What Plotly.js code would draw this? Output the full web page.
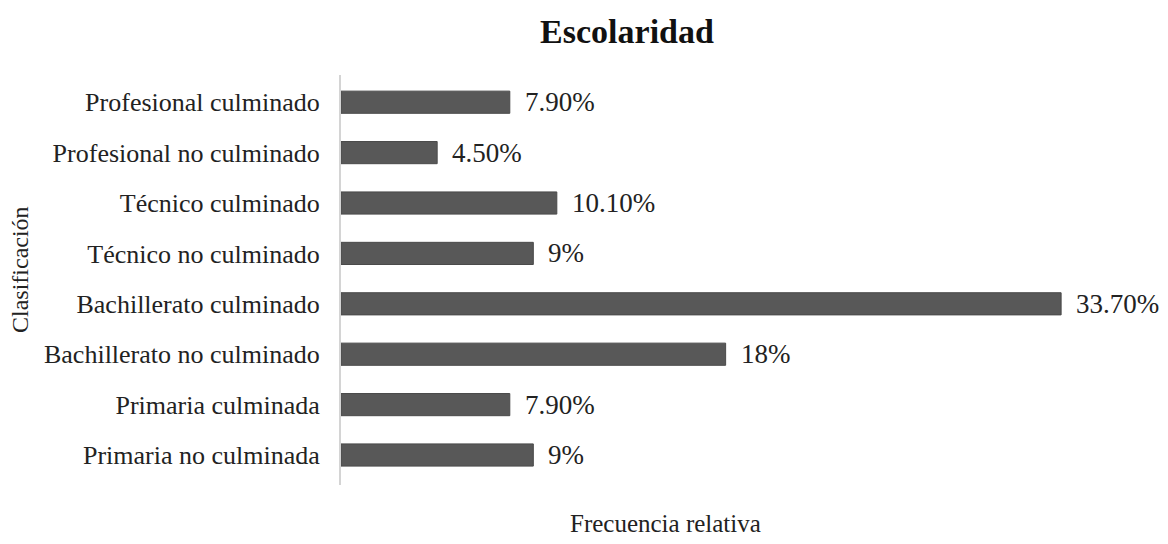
<!DOCTYPE html>
<html>
<head>
<meta charset="utf-8">
<script src="https://cdn.plot.ly/plotly-3.0.1.min.js"></script>
<style>html,body{margin:0;padding:0;background:#fff;}#chart{width:1168px;height:544px;}</style>
</head>
<body>
<div id="chart"></div>
<script>
const categories = ["Primaria no culminada","Primaria culminada","Bachillerato no culminado","Bachillerato culminado","Técnico no culminado","Técnico culminado","Profesional no culminado","Profesional culminado"];
const values = [9, 7.9, 18, 33.7, 9, 10.1, 4.5, 7.9];
const labels = ["9%","7.90%","18%","33.70%","9%","10.10%","4.50%","7.90%"];

const font = "Liberation Serif, Times New Roman, serif";

const trace = {
  type: "bar",
  orientation: "h",
  y: categories,
  x: values,
  marker: {color: "#585858", line: {color: "#4a4a4a", width: 1}},
  hoverinfo: "none"
};

const annotations = categories.map((c, i) => ({
  x: values[i], y: c, xref: "x", yref: "y",
  text: labels[i], showarrow: false, xanchor: "left", xshift: 13,
  font: {family: font, size: 27, color: "#222"}
}));
annotations.push({
  xref: "paper", yref: "paper", x: (665-341)/812, y: 0, yshift: -38,
  xanchor: "center", yanchor: "middle", showarrow: false,
  text: "Frecuencia relativa", font: {family: font, size: 25, color: "#222"}
});
annotations.push({
  xref: "paper", yref: "paper", x: 0, xshift: -321, y: 0.5, yshift: 10,
  xanchor: "center", yanchor: "middle", showarrow: false, textangle: -90,
  text: "Clasificación", font: {family: font, size: 24, color: "#222"}
});

const layout = {
  width: 1168, height: 544,
  margin: {l: 341, r: 15, t: 75, b: 59},
  paper_bgcolor: "#fff", plot_bgcolor: "#fff",
  title: {text: "<b>Escolaridad</b>", x: 627/1168, xref: "container", xanchor: "center", y: 1 - 31/544, yanchor: "middle", yref: "container",
          font: {family: font, size: 34, color: "#111"}},
  bargap: 0.56,
  showlegend: false,
  xaxis: {range: [0, 38], showticklabels: false, showgrid: false, zeroline: false, showline: false, ticks: ""},
  yaxis: {range: [-0.595, 7.54], showgrid: false, zeroline: false, showline: true, linecolor: "#d4d4d4", linewidth: 2,
          ticks: "", ticklabelstandoff: 14, tickfont: {family: font, size: 26, color: "#222"}, type: "category"},
  annotations: annotations
};

Plotly.newPlot("chart", [trace], layout, {displayModeBar: false, staticPlot: true});
</script>
</body>
</html>
